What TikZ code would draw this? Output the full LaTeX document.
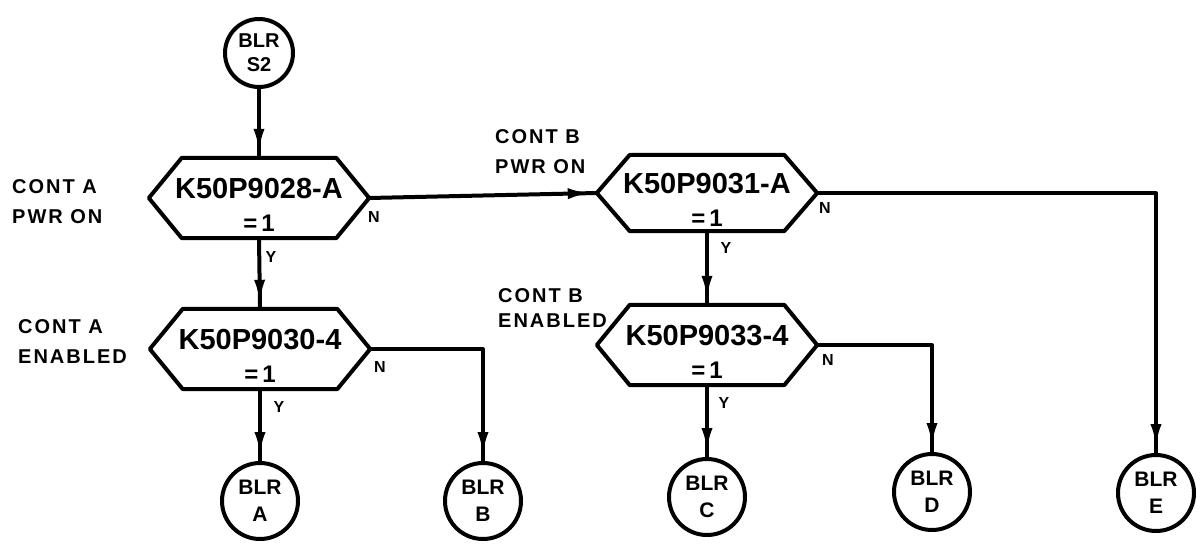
\documentclass[tikz,border=0pt]{standalone}
\usepackage{fontspec}
\setmainfont{Liberation Sans}
\newfontfamily\sidefont[LetterSpace=10]{Liberation Sans}
\usetikzlibrary{arrows.meta,decorations.markings}
\tikzset{
  ln/.style={line width=4pt, line join=round, line cap=round},
  conn/.style={ln, postaction={decorate},
    decoration={markings, mark=at position -5pt with {\arrow{Latex[length=24pt,width=11pt]}}}},
  term/.style={circle, draw, ln, minimum size=76pt, inner sep=0pt, align=center,
    font=\bfseries\fontsize{21}{27}\selectfont},
  hexbox/.style={minimum width=220pt, minimum height=80pt, inner sep=0pt, align=center,
    font=\bfseries\fontsize{29}{33}\selectfont},
  side/.style={align=left, anchor=west, inner sep=0pt, font=\sidefont\bfseries\fontsize{20}{30}\selectfont},
  yn/.style={inner sep=0pt, font=\bfseries\fontsize{16}{16}\selectfont},
}
\newcommand\hexoutline[1]{%
  \draw[ln] (#1.west) -- ([xshift=33pt]#1.north west) -- ([xshift=-33pt]#1.north east)
    -- (#1.east) -- ([xshift=-33pt]#1.south east) -- ([xshift=33pt]#1.south west) -- cycle;}
\newcommand\hexlabel[1]{\rule{0pt}{33pt}#1\\{\fontsize{24}{24}\selectfont =\,1}}
\begin{document}
\begin{tikzpicture}[x=1pt,y=-1pt]
\useasboundingbox (0,0) rectangle (1201,554);
% terminals
\node[term, minimum size=68pt, font=\bfseries\fontsize{20}{24}\selectfont] (s2) at (259,53) {BLR\\S2};
\node[term] (A) at (260,501) {BLR\\A};
\node[term] (B) at (483,501) {BLR\\B};
\node[term] (C) at (707,497) {BLR\\C};
\node[term] (D) at (932,492) {BLR\\D};
\node[term] (E) at (1156,493) {BLR\\E};
% decisions
\node[hexbox] (h1) at (259,198) {\hexlabel{K50P9028-A}};
\node[hexbox, minimum height=76pt] (h2) at (707,193) {\hexlabel{K50P9031-A}};
\node[hexbox] (h3) at (260,349) {\hexlabel{K50P9030-4}};
\node[hexbox] (h4) at (707,345) {\hexlabel{K50P9033-4}};
\hexoutline{h1}
\hexoutline{h2}
\hexoutline{h3}
\hexoutline{h4}
% side labels
\node[side] (l1) at (12,202) {CONT A\\PWR ON};
\node[side] (l3) at (18,342) {CONT A\\ENABLED};
\node[side] (l2) at (495,152) {CONT B\\PWR ON};
\node[side, font=\sidefont\bfseries\fontsize{20}{25}\selectfont] (l4) at (498,308) {CONT B\\ENABLED};
% Y / N labels
\node[yn] (n1) at (374,217) {N};
\node[yn] (n3) at (380,367) {N};
\node[yn] (n2) at (825,208) {N};
\node[yn] (n4) at (828,360) {N};
\node[yn] (y1) at (271,257) {Y};
\node[yn] (y3) at (279,407) {Y};
\node[yn] (y2) at (726,248) {Y};
\node[yn] (y4) at (724,403) {Y};
% connectors
\draw[conn] (s2.south) -- (h1.north);
\draw[conn] (h1.south) -- (h3.north);
\draw[conn] (h1.east) -- (h2.west);
\draw[conn] (h2.south) -- (h4.north);
\draw[conn] (h3.south) -- (A.north);
\draw[conn] (h3.east) -| (B.north);
\draw[conn] (h4.south) -- (C.north);
\draw[conn] (h4.east) -| (D.north);
\draw[conn] (h2.east) -| (E.north);
\end{tikzpicture}
\end{document}
